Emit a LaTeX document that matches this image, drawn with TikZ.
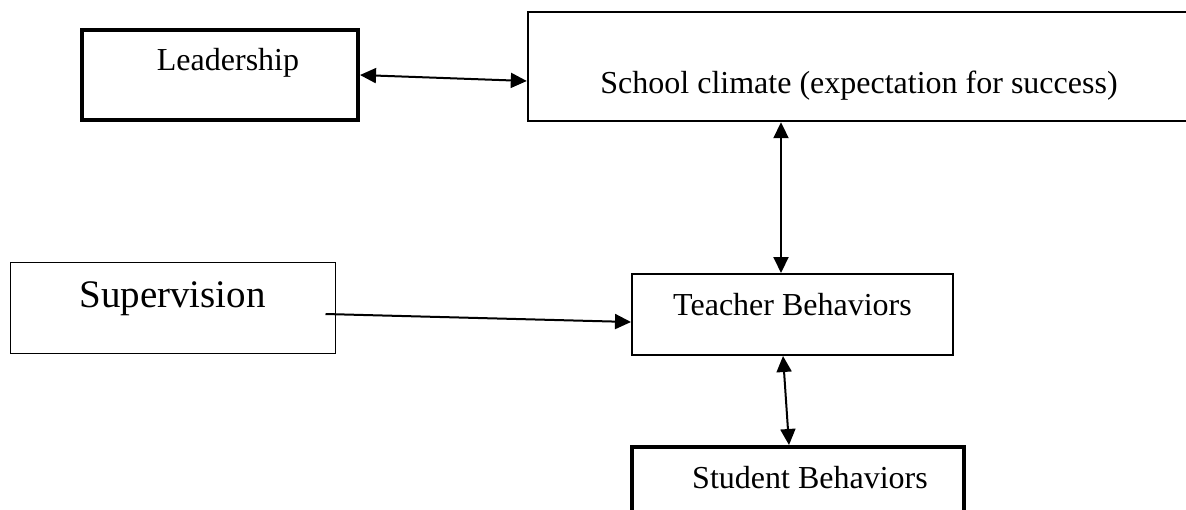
\documentclass[tikz,border=0pt]{standalone}
\usepackage{fontspec}
\setmainfont{Liberation Serif}
\usetikzlibrary{arrows.meta}
\begin{document}
\begin{tikzpicture}[x=0.5pt, y=-0.5pt, >={Triangle[length=8pt,width=7.5pt]},
    box/.style = {draw, rectangle, inner ysep=0pt, font=\fontsize{16}{19}\selectfont},
    link/.style = {line width=1pt}]
        \useasboundingbox (0,0) rectangle (1186,509);
        \node[box, line width=2pt, minimum width=138pt, text height=20pt, text depth=25pt] (lead) at (220,75) {\hspace*{8pt}Leadership};
        \node[box, line width=1.2pt, minimum width=331pt, text height=40.5pt, text depth=14pt] (clim) at (859,66.5) {School climate (expectation for success)};
        \node[box, line width=0.5pt, minimum width=162.5pt, text height=22.5pt, text depth=23pt, font=\fontsize{19.5}{23}\selectfont] (sup) at (172.5,307.5) {Supervision};
        \node[box, line width=1pt, minimum width=160.5pt, text height=20.5pt, text depth=20pt] (teach) at (792.5,314.5) {Teacher Behaviors};
        \node[box, line width=2pt, minimum width=166pt, text height=20.5pt, text depth=16pt] (stud) at (798,483.5) {\hspace*{12pt}Student Behaviors};
        \coordinate (up) at ([xshift=-5.75pt]teach.north);

        \draw[link, <->] (lead.east) -- ([yshift=-7.25pt]clim.west);
        \draw[link, <->] (up |- clim.south) -- (up);
        \draw[link, ->] ([xshift=-5pt,yshift=-3.25pt]sup.east) -- ([yshift=-3.75pt]teach.west);
        \draw[link, <->] ([xshift=-4.75pt]teach.south) -- ([xshift=-4.5pt]stud.north);
    \end{tikzpicture}
\end{document}
